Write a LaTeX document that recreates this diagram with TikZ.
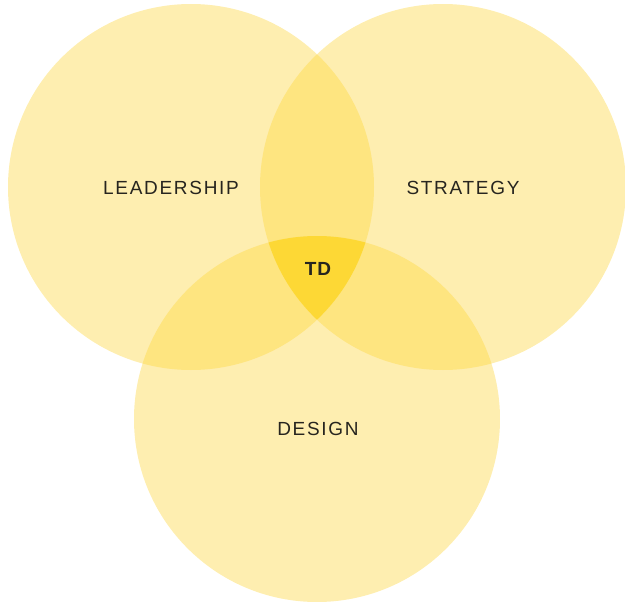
\documentclass[tikz,border=0pt]{standalone}
\usepackage{fontspec}
\setmainfont{Liberation Sans}
\newfontfamily\labelfont[LetterSpace=9]{Liberation Sans}
\newfontfamily\corefont[LetterSpace=6]{Liberation Sans}
\definecolor{onecol}{HTML}{FEEEB0}
\definecolor{twocol}{HTML}{FEE580}
\definecolor{threecol}{HTML}{FDD835}
\definecolor{inkcol}{HTML}{27251F}
\tikzset{
  word/.style={text=inkcol,font=\labelfont\fontsize{19}{21}\selectfont},
  core/.style={text=inkcol,font=\corefont\fontsize{19}{21}\selectfont\bfseries}
}

\begin{document}
\begin{tikzpicture}[x=1pt,y=-1pt]
			\useasboundingbox (0,0) rectangle (625,602);
			\coordinate (lead) at (191,187);
			\coordinate (strat) at (443,187);
			\coordinate (des) at (317,419);
			\def\rad{183}
			
			\fill[onecol] (lead) circle (\rad);
			\fill[onecol] (strat) circle (\rad);
			\fill[onecol] (des) circle (\rad);
			
			\begin{scope}
				\clip (lead) circle (\rad);
				\fill[twocol] (strat) circle (\rad);
				\fill[twocol] (des) circle (\rad);
			\end{scope}
			\begin{scope}
				\clip (strat) circle (\rad);
				\fill[twocol] (des) circle (\rad);
			\end{scope}
			\begin{scope}
				\clip (lead) circle (\rad);
				\clip (strat) circle (\rad);
				\fill[threecol] (des) circle (\rad);
			\end{scope}
			
			\node[word] (leadership) at (171,188) {LEADERSHIP};
			\node[word] (strategy) at (463,188) {STRATEGY};
			\node[word] (design) at (318,429) {DESIGN};
			\node[core] (td) at (318,269) {TD};
			
		\end{tikzpicture}
\end{document}
